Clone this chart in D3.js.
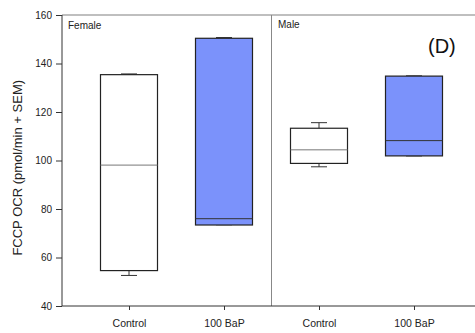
<!DOCTYPE html>
<meta charset="utf-8">
<style>
  body { margin: 0; background: #fff; }
  text { font-family: "Liberation Sans", Arial, sans-serif; fill: #222; }
  .axis path, .axis line { stroke: #333; }
</style>
<body>
<div id="chart"></div>
<script src="https://cdn.jsdelivr.net/npm/d3@7"></script>
<script>

var groups = ["Female", "Female", "Male", "Male"];
var categories = ["Control", "100 BaP", "Control", "100 BaP"];
var whiskerLow = [52.6, 73.5, 97.4, 101.9];
var q1 = [54.6, 73.4, 98.8, 101.9];
var median = [98.1, 76.0, 104.4, 108.2];
var q3 = [135.4, 150.4, 113.3, 134.8];
var whiskerHigh = [135.7, 150.7, 115.6, 134.9];
var fills = ["#ffffff", "#7b92fb", "#ffffff", "#7b92fb"];
var yTicks = [40, 60, 80, 100, 120, 140, 160];

var width = 475,
    height = 333;

var svg = d3.select("#chart").append("svg")
    .attr("width", width)
    .attr("height", height);

var y = d3.scaleLinear()
    .domain([40, 160])
    .range([306, 15]);

// category positions, 95px apart
var x = d3.scaleLinear()
    .domain([0, 3])
    .range([129, 414]);

var boxW = 57, capW = 16;

// top frame and panel divider
svg.append("line")
    .attr("x1", 62).attr("x2", width)
    .attr("y1", y(160)).attr("y2", y(160))
    .attr("stroke", "#aaa").attr("stroke-width", 1.5);

svg.append("line")
    .attr("x1", (x(1) + x(2)) / 2).attr("x2", (x(1) + x(2)) / 2)
    .attr("y1", y(160)).attr("y2", y(40))
    .attr("stroke", "#888");

var yAxis = svg.append("g")
    .attr("class", "axis")
    .attr("transform", "translate(62,0)")
    .call(d3.axisLeft(y).tickValues(yTicks).tickSize(6).tickPadding(4));
yAxis.select(".domain").attr("d", "M0," + y(40) + "V" + y(160));
yAxis.selectAll("text").style("font-size", "10px");

var xAxis = svg.append("g")
    .attr("class", "axis")
    .attr("transform", "translate(0," + y(40) + ")")
    .call(d3.axisBottom(x).tickValues([0, 1, 2, 3])
      .tickFormat(function(d) { return categories[d]; })
      .tickSize(4).tickPadding(10));
xAxis.select(".domain").attr("d", "M62,0H" + width);
xAxis.selectAll("text").style("font-size", "10.5px");

var box = svg.selectAll(".box")
    .data(categories)
  .enter().append("g")
    .attr("class", "box");

// whiskers
box.append("line")
    .attr("x1", function(d, i) { return x(i); })
    .attr("x2", function(d, i) { return x(i); })
    .attr("y1", function(d, i) { return y(whiskerLow[i]); })
    .attr("y2", function(d, i) { return y(q1[i]); })
    .attr("stroke", "#333");
box.append("line")
    .attr("x1", function(d, i) { return x(i); })
    .attr("x2", function(d, i) { return x(i); })
    .attr("y1", function(d, i) { return y(q3[i]); })
    .attr("y2", function(d, i) { return y(whiskerHigh[i]); })
    .attr("stroke", "#333");
[whiskerLow, whiskerHigh].forEach(function(arr) {
  box.append("line")
      .attr("x1", function(d, i) { return x(i) - capW / 2; })
      .attr("x2", function(d, i) { return x(i) + capW / 2; })
      .attr("y1", function(d, i) { return y(arr[i]); })
      .attr("y2", function(d, i) { return y(arr[i]); })
      .attr("stroke", "#333");
});

box.append("rect")
    .attr("x", function(d, i) { return x(i) - boxW / 2; })
    .attr("width", boxW)
    .attr("y", function(d, i) { return y(q3[i]); })
    .attr("height", function(d, i) { return y(q1[i]) - y(q3[i]); })
    .attr("fill", function(d, i) { return fills[i]; })
    .attr("stroke", "#222")
    .attr("stroke-width", 1.2);

box.append("line")
    .attr("x1", function(d, i) { return x(i) - boxW / 2; })
    .attr("x2", function(d, i) { return x(i) + boxW / 2; })
    .attr("y1", function(d, i) { return y(median[i]); })
    .attr("y2", function(d, i) { return y(median[i]); })
    .attr("stroke", function(d, i) { return i % 2 ? "#333" : "#777"; });

// panel labels
svg.append("text").attr("x", 68).attr("y", 29)
    .style("font-size", "10px").text("Female");
svg.append("text").attr("x", 278).attr("y", 28)
    .style("font-size", "10px").text("Male");
svg.append("text").attr("x", 428).attr("y", 53)
    .style("font-size", "20px").style("fill", "#111").text("(D)");

svg.append("text")
    .attr("transform", "translate(22," + y(97) + ") rotate(-90)")
    .attr("text-anchor", "middle")
    .style("font-size", "13px")
    .text("FCCP OCR (pmol/min + SEM)");

</script>
</body>
